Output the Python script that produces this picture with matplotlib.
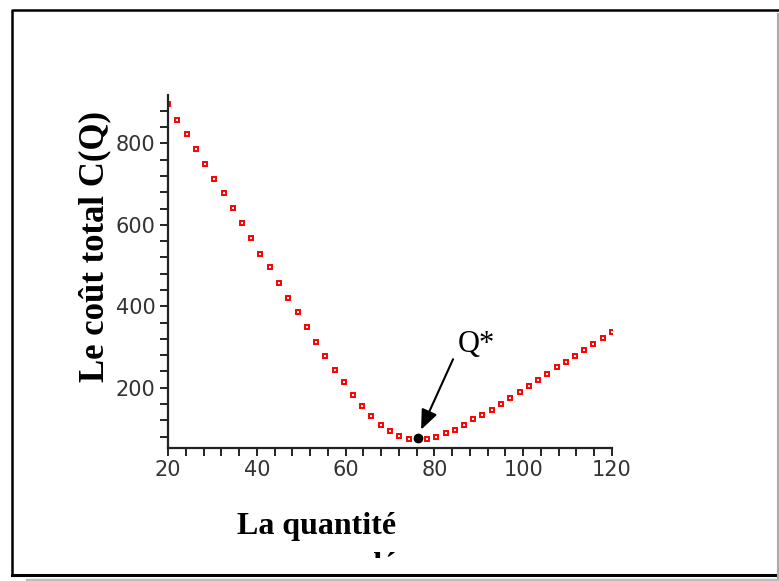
import matplotlib
matplotlib.use("Agg")
import matplotlib.pyplot as plt
from matplotlib.ticker import MultipleLocator
from matplotlib.transforms import Bbox
from matplotlib.lines import Line2D

# points (49 samples, 20..120)
quantite = [20.0, 22.08, 24.17, 26.25, 28.33, 30.42, 32.5, 34.58, 36.67, 38.75,
            40.83, 42.92, 45.0, 47.08, 49.17, 51.25, 53.33, 55.42, 57.5, 59.58,
            61.67, 63.75, 65.83, 67.92, 70.0, 72.08, 74.17, 76.25, 78.33, 80.42,
            82.5, 84.58, 86.67, 88.75, 90.83, 92.92, 95.0, 97.08, 99.17, 101.25,
            103.33, 105.42, 107.5, 109.58, 111.67, 113.75, 115.83, 117.92, 120.0]
cout = [896, 858, 823, 787, 750, 712, 678, 641, 604, 567,
        529, 496, 458, 420, 385, 350, 312, 279, 244, 213,
        181, 154, 130, 109, 93, 82, 74, 73, 74, 80,
        89, 97, 109, 123, 134, 146, 160, 175, 189, 205,
        220, 234, 250, 263, 279, 292, 307, 321, 337]
q_star = 76.25
c_star = 76
x_ticks = [20, 40, 60, 80, 100, 120]
y_ticks = [200, 400, 600, 800]

W, H = 779, 581
fig = plt.figure(figsize=(W / 100, H / 100), dpi=100)
ax = fig.add_axes([168 / W, (H - 448) / H, 444 / W, (448 - 95) / H])

ax.plot(quantite, cout, 's', ms=3.4, mfc='white', mec='red', mew=1.4, ls='none')
ax.plot([q_star], [c_star], 'o', color='black', ms=6)

ax.annotate('', xy=(77, 97), xytext=(84.2, 270),
            arrowprops=dict(arrowstyle='-|>,head_length=0.6,head_width=0.25',
                            color='black', lw=1.5,
                            mutation_scale=20, shrinkA=0, shrinkB=0))
ax.text(85.2, 288, 'Q*', fontsize=22, family='Liberation Serif',
        ha='left', va='baseline')

ax.set_xlim(20, 120)
ax.set_ylim(52, 919)
ax.set_xticks(x_ticks)
ax.set_yticks(y_ticks)
ax.xaxis.set_minor_locator(MultipleLocator(4))
ax.yaxis.set_minor_locator(MultipleLocator(40))
for s in ['top', 'right']:
    ax.spines[s].set_visible(False)
for s in ['left', 'bottom']:
    ax.spines[s].set_linewidth(1.6)
    ax.spines[s].set_color('#222222')
ax.tick_params(which='both', direction='out', length=6, width=1.4,
               color='#222222', labelsize=15, labelcolor='#333333', pad=3)
ax.set_facecolor('none')

# axis titles as figure text
fig.text(316.7 / W, (H - 534.3) / H, 'La quantité', fontsize=23,
         family='Liberation Serif', weight='bold', ha='center', va='baseline')
t2 = fig.text(330 / W, (H - 574) / H, 'commandée', fontsize=23,
              family='Liberation Serif', weight='bold', ha='center', va='baseline')
t2.set_clip_box(Bbox.from_extents(0, H - 558, W, H))
t2.set_clip_on(True)

fig.text(95 / W, (H - 247) / H, 'Le coût total C(Q)', fontsize=25,
         family='Liberation Serif', weight='bold', rotation=90,
         ha='center', va='center')

# document frame
fig.add_artist(Line2D([11.5 / W, 11.5 / W, 1.0], [(H - 575) / H, (H - 10) / H, (H - 10) / H],
                      transform=fig.transFigure, color='black', lw=1.8))
fig.add_artist(Line2D([11.5 / W, 1.0], [(H - 575) / H, (H - 575) / H],
                      transform=fig.transFigure, color='black', lw=2.2))
fig.add_artist(Line2D([27 / W, 1.0], [(H - 580) / H, (H - 580) / H],
                      transform=fig.transFigure, color='#bbbbbb', lw=2.5))
fig.add_artist(Line2D([778.2 / W, 778.2 / W], [(H - 578) / H, (H - 14) / H],
                      transform=fig.transFigure, color='#aaaaaa', lw=1.5))

fig.savefig('out.png', dpi=100)
